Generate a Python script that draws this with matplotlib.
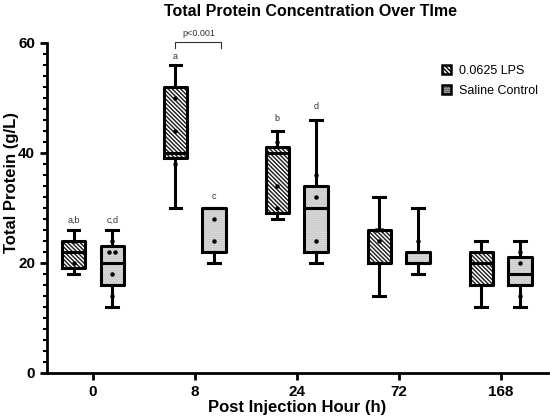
import matplotlib
matplotlib.use("Agg")
import matplotlib.pyplot as plt
from matplotlib.patches import Patch
from matplotlib.ticker import MultipleLocator

plt.rcParams['font.family'] = ['Liberation Sans', 'DejaVu Sans']
plt.rcParams['hatch.linewidth'] = 1.0

hours = ["0", "8", "24", "72", "168"]
series = ["0.0625 LPS", "Saline Control"]

# box statistics: (min, q1, median, q3, max)
lps_min = [18, 30, 28, 14, 12]
lps_q1 = [19, 39, 29, 20, 16]
lps_med = [22, 40, 40, 20, 20]
lps_q3 = [24, 52, 41, 26, 22]
lps_max = [26, 56, 44, 32, 24]

sal_min = [12, 20, 20, 18, 12]
sal_q1 = [16, 22, 22, 20, 16]
sal_med = [20, 30, 30, 20, 18]
sal_q3 = [23, 30, 34, 22, 21]
sal_max = [26, 30, 46, 30, 24]

# visible individual points
lps_pts = [[24, 20], [50, 44, 38], [42, 34, 30], [26, 26, 24], []]
sal_pts = [[24, 22, 22, 18, 14], [28, 24], [36, 32, 24], [24], [22, 20, 14]]

letters_lps = ["a,b", "a", "b", "", ""]
letters_lps_y = [27.8, 57.6, 46.2, 0, 0]
letters_sal = ["c,d", "c", "d", "", ""]
letters_sal_y = [27.8, 32.0, 48.5, 0, 0]

LPS_HATCH = '\\' * 8
SAL_HATCH = '.' * 8

fig = plt.figure(figsize=(5.5, 4.2), dpi=100)
ax = fig.add_axes([0.0855, 0.112, 0.91, 0.786])

off = 0.19
width = 0.23


def stats(mins, q1s, meds, q3s, maxs):
    return [dict(whislo=a, q1=b, med=c, q3=d, whishi=e, fliers=[])
            for a, b, c, d, e in zip(mins, q1s, meds, q3s, maxs)]


lps_stats = stats(lps_min, lps_q1, lps_med, lps_q3, lps_max)
sal_stats = stats(sal_min, sal_q1, sal_med, sal_q3, sal_max)
pos_l = [i - off for i in range(len(hours))]
pos_s = [i + off for i in range(len(hours))]

# fills with hatches
for st, pos, fc, hc, h in [(lps_stats, pos_l, 'white', '#1a1a1a', LPS_HATCH),
                           (sal_stats, pos_s, '#ededed', '#b0b0b0', SAL_HATCH)]:
    ax.bxp(st, positions=pos, widths=width, patch_artist=True, showcaps=False,
           boxprops=dict(facecolor=fc, edgecolor=hc, linewidth=0, hatch=h),
           whiskerprops=dict(linewidth=0), medianprops=dict(linewidth=0))

# outlines, whiskers, caps, medians
for st, pos in [(lps_stats, pos_l), (sal_stats, pos_s)]:
    ax.bxp(st, positions=pos, widths=width, patch_artist=False,
           boxprops=dict(color='black', linewidth=2.2),
           whiskerprops=dict(color='black', linewidth=2.2),
           capprops=dict(color='black', linewidth=2.2),
           medianprops=dict(color='black', linewidth=2.2),
           capwidths=width * 0.5)

for pts_list, pos in [(lps_pts, pos_l), (sal_pts, pos_s)]:
    for p, vals in zip(pos, pts_list):
        xs = []
        seen = {}
        for v in vals:
            k = seen.get(v, 0)
            seen[v] = k + 1
            xs.append(p + (k * 0.06 - (0.03 if vals.count(v) > 1 else 0)))
        ax.plot(xs, vals, 'o', color='black', markersize=2.2, zorder=5)

for p, t, y in zip(pos_l, letters_lps, letters_lps_y):
    if t:
        ax.text(p, y, t, ha='center', va='center', fontsize=6.5, color='#333333')
for p, t, y in zip(pos_s, letters_sal, letters_sal_y):
    if t:
        ax.text(p, y, t, ha='center', va='center', fontsize=6.5, color='#333333')

# significance bracket
x1, x2 = pos_l[1], pos_s[1] + 0.07
ax.plot([x1, x1, x2, x2], [59.0, 60.1, 60.1, 59.0], color='#333333', lw=0.8, clip_on=False)
ax.text((x1 + x2) / 2, 61.7, "p<0.001", ha='center', va='center', fontsize=6.5,
        color='#333333', clip_on=False)

ax.set_xlim(-0.45, 4.46)
ax.set_ylim(0, 60)
ax.set_xticks(range(len(hours)))
ax.set_xticklabels(hours)
ax.yaxis.set_major_locator(MultipleLocator(20))
ax.yaxis.set_minor_locator(MultipleLocator(2))
for s in ['top', 'right']:
    ax.spines[s].set_visible(False)
for s in ['left', 'bottom']:
    ax.spines[s].set_linewidth(2)
ax.tick_params(axis='both', which='major', width=2, length=5, labelsize=11)
ax.tick_params(axis='y', which='minor', width=1.5, length=3)
for lab in ax.get_xticklabels() + ax.get_yticklabels():
    lab.set_fontweight('bold')

ax.set_xlabel("Post Injection Hour (h)", fontsize=12, fontweight='bold', labelpad=1)
fig.text(12 / 550, 1 - 182.5 / 420, "Total Protein (g/L)", rotation=90, ha='center',
         va='center', fontsize=12, fontweight='bold')
fig.text(0.565, 0.972, "Total Protein Concentration Over TIme", ha='center', va='center',
         fontsize=11.5, fontweight='bold')

handles = [Patch(facecolor='white', edgecolor='black', hatch=LPS_HATCH, linewidth=1.8),
           Patch(facecolor='#ededed', edgecolor='black', hatch=SAL_HATCH, linewidth=1.8)]
leg = ax.legend(handles, series, loc='upper left', bbox_to_anchor=(442 / 550, 1 - 65 / 420),
                bbox_transform=fig.transFigure, borderaxespad=0, borderpad=0,
                frameon=False, fontsize=9, handlelength=0.75, handleheight=0.75,
                handletextpad=0.6, labelspacing=0.6)

fig.savefig("out.png", dpi=100)
